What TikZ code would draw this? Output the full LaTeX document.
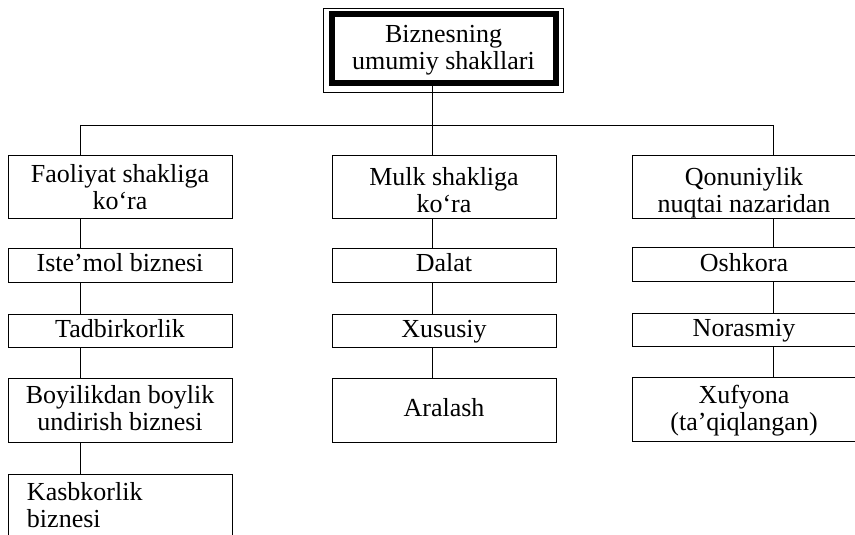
\documentclass[tikz,border=0pt]{standalone}
\usepackage{fontspec}
\setmainfont{Liberation Serif}
\tikzstyle{box}=[draw, line width=0.8pt, inner sep=0pt, outer sep=0pt, minimum width=224pt, align=center, font=\fontsize{26}{27}\selectfont, text height=18pt, text depth=5pt]
\tikzstyle{dbox}=[box, text height=45pt, text depth=0pt]
\tikzstyle{tbox}=[dbox, line width=6pt, text depth=3pt]

\begin{document}
\begin{tikzpicture}[x=1pt, y=-1pt, line width=0.8pt]
        \clip (0, 0) rectangle (855, 535);
        \node[tbox, minimum height=69pt] (T) at (443.5, 49) {Biznesning\\umumiy shakllari};
        \draw ([xshift=-8.5pt, yshift=6.5pt]T.north west) rectangle ([xshift=7.5pt, yshift=-8.5pt]T.south east);
        \node[dbox, minimum height=63pt] (F1) at (120, 186.5) {Faoliyat shakliga\\ko‘ra};
        \node[box, minimum height=34pt] (F2) at (120, 265) {Iste’mol biznesi};
        \node[box, minimum height=33pt] (F3) at (120, 330.5) {Tadbirkorlik};
        \node[dbox, minimum height=64pt, text depth=5pt] (F4) at (120, 410) {Boyilikdan boylik\\undirish biznesi};
        \node[box, minimum height=72pt, text depth=37pt, align=left, text width=186pt, inner xsep=19pt] (F5) at (120, 510) {Kasbkorlik\\biznesi};
        \node[dbox, minimum height=63pt, text height=51pt] (M1) at (444, 186.5) {Mulk shakliga\\ko‘ra};
        \node[box, minimum height=34pt] (M2) at (444, 265) {Dalat};
        \node[box, minimum height=33pt] (M3) at (444, 330.5) {Xususiy};
        \node[box, minimum height=64pt] (M4) at (444, 410) {Aralash};
        \node[dbox, minimum height=63pt, text height=51pt] (Q1) at (744, 186.5) {Qonuniylik\\nuqtai nazaridan};
        \node[box, minimum height=34pt] (Q2) at (744, 264.5) {Oshkora};
        \node[box, minimum height=33pt] (Q3) at (744, 330) {Norasmiy};
        \node[dbox, minimum height=64pt, text depth=4pt] (Q4) at (744, 409.5) {Xufyona\\(ta’qiqlangan)};
        \coordinate (C1) at (80.5, 125);
        \coordinate (C2) at (432.5, 125);
        \coordinate (C3) at (773, 125);
        \draw (T.south -| C2) -- (M1.north -| C2);
        \draw (C1) -- (C3);
        \draw (C1) -- (F1.north -| C1);
        \draw (C3) -- (Q1.north -| C3);
        \draw (F1.south -| C1) -- (F2.north -| C1);
        \draw (F2.south -| C1) -- (F3.north -| C1);
        \draw (F3.south -| C1) -- (F4.north -| C1);
        \draw (F4.south -| C1) -- (F5.north -| C1);
        \draw (M1.south -| C2) -- (M2.north -| C2);
        \draw (M2.south -| C2) -- (M3.north -| C2);
        \draw (M3.south -| C2) -- (M4.north -| C2);
        \draw (Q1.south -| C3) -- (Q2.north -| C3);
        \draw (Q2.south -| C3) -- (Q3.north -| C3);
        \draw (Q3.south -| C3) -- (Q4.north -| C3);
    \end{tikzpicture}
\end{document}
